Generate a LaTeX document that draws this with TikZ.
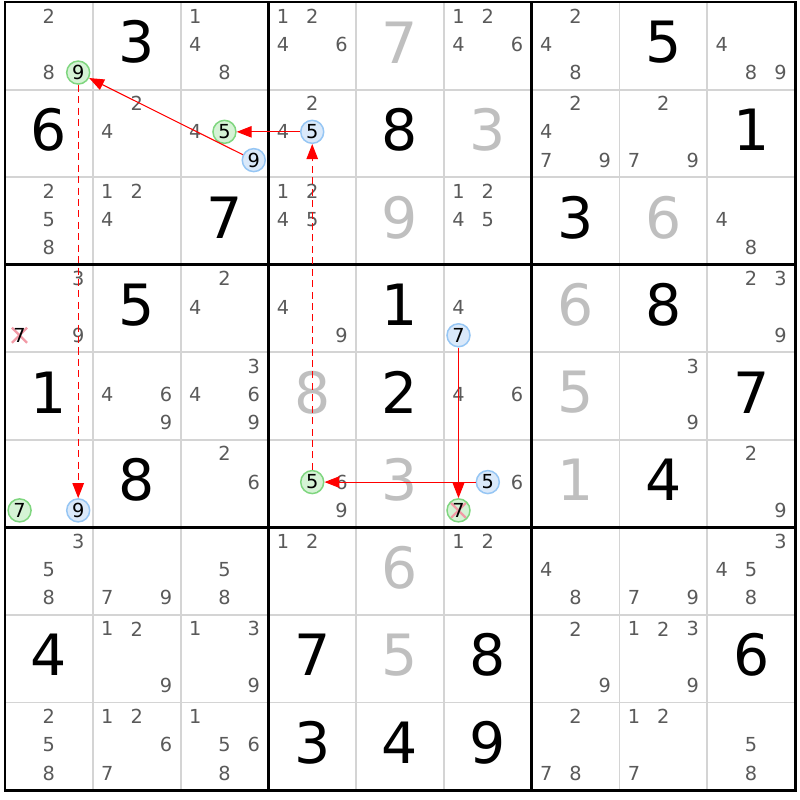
\documentclass[tikz,border=0pt]{standalone}
\usepackage{fontspec}
\setmainfont{DejaVu Sans}
\usetikzlibrary{arrows.meta}
\definecolor{candgray}{HTML}{5A5A5A}
\definecolor{solvedgray}{HTML}{BFBFBF}
\definecolor{thingray}{HTML}{D4D4D4}
\definecolor{ringgreen}{HTML}{7FD67F}
\definecolor{fillgreen}{HTML}{D5F3D5}
\definecolor{ringblue}{HTML}{96C6F4}
\definecolor{fillblue}{HTML}{DAE9FA}
\definecolor{crosspink}{HTML}{F29AA6}

\tikzset{
  cand/.style={circle,inner sep=0pt,minimum size=0.46cm,text=candgray,font=\fontsize{11}{13}\selectfont},
  greenring/.style={draw=ringgreen,fill=fillgreen,line width=0.85pt,text=black},
  bluering/.style={draw=ringblue,fill=fillblue,line width=0.85pt,text=black},
  struck/.style={text=black,fill=white,path picture={
      \draw[crosspink,line width=1.3pt]
        ([shift={(-4.3pt,-4.3pt)}]path picture bounding box.center) -- ([shift={(4.3pt,4.3pt)}]path picture bounding box.center)
        ([shift={(-4.3pt,4.3pt)}]path picture bounding box.center) -- ([shift={(4.3pt,-4.3pt)}]path picture bounding box.center);}},
  given/.style={font=\fontsize{32.4}{36}\selectfont,yshift=2pt},
  solved/.style={given,text=solvedgray},
  chainlink/.style={red,line width=0.6pt,-{Triangle[length=8.5pt,width=6.5pt]}},
  weaklink/.style={chainlink,dash pattern=on 4pt off 2.5pt},
}

% one candidate: [style] row col digit
\newcommand{\putcand}[4][]{%
  \pgfmathsetmacro\candx{(mod(#4-1,3)-1)*29.3}%
  \pgfmathsetmacro\candy{(floor((#4-1)/3)-1)*28.3-1.5}%
  \node[cand,#1] (k#2#3#4) at ([shift={(\candx,\candy)}]c#2#3) {#4};}
\newcommand{\putcands}[3]{\foreach \d in {#3} {\putcand{#1}{#2}{\d}}}

\begin{document}
\begin{tikzpicture}[x=0.02cm,y=-0.02cm]
    \useasboundingbox[fill=white] (0,0) rectangle (800,800);
    % grid
    \foreach \i in {0,...,9} {
        \draw[thingray,line width=1.1pt] ({5+\i*87.78},2) -- ({5+\i*87.78},790);
        \draw[thingray,line width=1.1pt] (5,{2+\i*87.56}) -- (795,{2+\i*87.56});
    }
    \foreach \i in {3,6} {
        \draw[line width=1.7pt] ({5+\i*87.78},2) -- ({5+\i*87.78},790);
        \draw[line width=1.7pt] (5,{2+\i*87.56}) -- (795,{2+\i*87.56});
    }
    \draw[line width=1.7pt] (5,2) rectangle (795,790);
    \foreach \r in {1,...,9}
        \foreach \c in {1,...,9}
            \coordinate (c\r\c) at ({5+(\c-0.5)*87.78},{2+(\r-0.5)*87.56});
    % givens and solved cells
    \foreach \r/\c/\v in {1/2/3,1/8/5,2/1/6,2/5/8,2/9/1,3/3/7,3/7/3,4/2/5,4/5/1,4/8/8,5/1/1,
        5/5/2,5/9/7,6/2/8,6/8/4,8/1/4,8/4/7,8/6/8,8/9/6,9/4/3,9/5/4,9/6/9}
        \node[given] (g\r\c) at (c\r\c) {\v};
    \foreach \r/\c/\v in {1/5/7,2/6/3,3/5/9,3/8/6,4/7/6,5/4/8,5/7/5,6/5/3,6/7/1,7/5/6,8/5/5}
        \node[solved] (g\r\c) at (c\r\c) {\v};
    % candidates
    \putcands{1}{1}{2,8}  \putcands{1}{3}{1,4,8}  \putcands{1}{4}{1,2,4,6}
    \putcands{1}{6}{1,2,4,6}  \putcands{1}{7}{2,4,8}  \putcands{1}{9}{4,8,9}
    \putcands{2}{2}{2,4}  \putcands{2}{3}{4}  \putcands{2}{4}{2,4}
    \putcands{2}{7}{2,4,7,9}  \putcands{2}{8}{2,7,9}
    \putcands{3}{1}{2,5,8}  \putcands{3}{2}{1,2,4}  \putcands{3}{4}{1,2,4,5}
    \putcands{3}{6}{1,2,4,5}  \putcands{3}{9}{4,8}
    \putcands{4}{1}{3,9}  \putcands{4}{3}{2,4}  \putcands{4}{4}{4,9}
    \putcands{4}{6}{4}  \putcands{4}{9}{2,3,9}
    \putcands{5}{2}{4,6,9}  \putcands{5}{3}{3,4,6,9}  \putcands{5}{6}{4,6}  \putcands{5}{8}{3,9}
    \putcands{6}{3}{2,6}  \putcands{6}{4}{6,9}  \putcands{6}{6}{6}  \putcands{6}{9}{2,9}
    \putcands{7}{1}{3,5,8}  \putcands{7}{2}{7,9}  \putcands{7}{3}{5,8}  \putcands{7}{4}{1,2}
    \putcands{7}{6}{1,2}  \putcands{7}{7}{4,8}  \putcands{7}{8}{7,9}  \putcands{7}{9}{3,4,5,8}
    \putcands{8}{2}{1,2,9}  \putcands{8}{3}{1,3,9}  \putcands{8}{7}{2,9}  \putcands{8}{8}{1,2,3,9}
    \putcands{9}{1}{2,5,8}  \putcands{9}{2}{1,2,6,7}  \putcands{9}{3}{1,5,6,8}
    \putcands{9}{7}{2,7,8}  \putcands{9}{8}{1,2,7}  \putcands{9}{9}{5,8}
    % chain candidates
    \putcand[greenring]{1}{1}{9}
    \putcand[greenring]{2}{3}{5}
    \putcand[bluering]{2}{3}{9}
    \putcand[bluering]{2}{4}{5}
    \putcand[struck]{4}{1}{7}
    \putcand[bluering]{4}{6}{7}
    \putcand[greenring]{6}{1}{7}
    \putcand[bluering]{6}{1}{9}
    \putcand[greenring]{6}{4}{5}
    \putcand[bluering]{6}{6}{5}
    \putcand[struck,greenring]{6}{6}{7}
    % links
    \draw[chainlink] (k239) -- (k119);
    \draw[chainlink] (k245) -- (k235);
    \draw[weaklink] (k645) -- (k245);
    \draw[weaklink] (k119) -- (k619);
    \draw[chainlink] (k467) -- (k667);
    \draw[chainlink] (k665) -- (k645);
\end{tikzpicture}
\end{document}
